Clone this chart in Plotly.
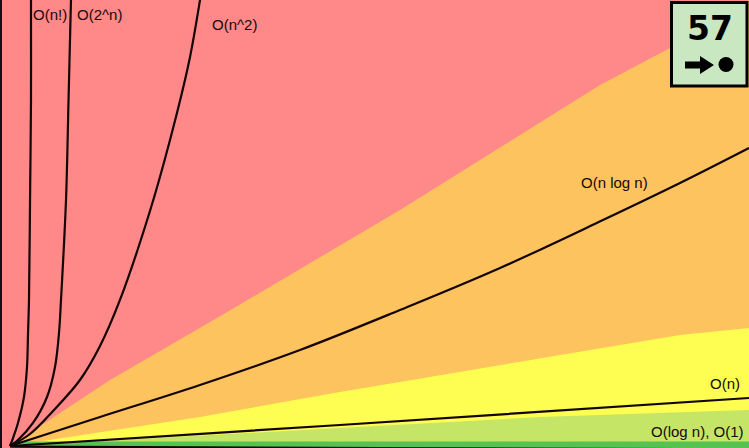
import plotly.graph_objects as go

# ---- data (chart units: n on x, operations on y) ----
n_fact_x = [0, 0.41, 1.08, 1.89, 2.30, 2.44, 2.57, 2.71, 2.84, 2.84, 2.88]
n_fact_y = [0, 1.79, 5.16, 10.99, 17.71, 25.34, 32.74, 55.16, 77.58, 100, 104.5]

exp_x = [0, 1.08, 3.11, 5.01, 6.09, 6.63, 6.90, 7.58, 7.92, 8.25, 8.32]
exp_y = [0, 1.35, 5.16, 10.99, 17.71, 25.34, 32.74, 55.16, 77.58, 100, 104.5]

sq_x = [0, 2.71, 5.82, 9.47, 12.18, 14.88, 18.94, 21.65, 24.22, 25.71, 26.12]
sq_y = [0, 2.69, 7.85, 14.80, 22.42, 32.74, 52.69, 68.61, 86.10, 100, 104.5]

nlogn_x = [0, 12.18, 25.71, 39.24, 52.77, 66.31, 80.24, 90.66, 100]
nlogn_y = [0, 6.50, 13.68, 21.52, 30.49, 39.91, 50.67, 58.97, 66.82]

lin_x = [0, 44.65, 100]
lin_y = [0, 4.71, 10.76]

log_x = [0, 100]
log_y = [-0.15, -0.75]

# zone boundaries
red_orange_x = [0, 13.53, 28.01, 52.77, 79.84, 89.58, 100]
red_orange_y = [0, 14.80, 28.70, 52.91, 80.94, 89.46, 100]
orange_yellow_x = [0, 25.71, 44.65, 90.66, 100]
orange_yellow_y = [0, 6.50, 12.11, 24.89, 26.46]
yellow_green_x = [0, 44.65, 71.72, 100]
yellow_green_y = [0, 4.04, 6.50, 8.07]
green_dark_x = [0.4, 100]
green_dark_y = [1.0, 1.0]

labels = ["O(n!)", "O(2^n)", "O(n^2)", "O(n log n)", "O(n)", "O(log n), O(1)"]
badge_number = "57"

RED, ORANGE, YELLOW, LGREEN, DGREEN = "#ff8888", "#fcc35f", "#fdfd52", "#c4e566", "#54c351"
LINE = "#140404"
W, H = 749, 448

fig = go.Figure()


def zone(xs, ys, color):
    px = list(xs) + [xs[-1], 101, 101, xs[0]]
    pyv = list(ys) + [-2, -2, -2, -2]
    fig.add_trace(go.Scatter(x=px, y=pyv, fill="toself", fillcolor=color, mode="none",
                             hoverinfo="skip", showlegend=False))


zone(red_orange_x, red_orange_y, ORANGE)
zone(orange_yellow_x, orange_yellow_y, YELLOW)
zone(yellow_green_x, yellow_green_y, LGREEN)
zone(green_dark_x, green_dark_y, DGREEN)

for xs, ys in [(n_fact_x, n_fact_y), (exp_x, exp_y), (sq_x, sq_y), (nlogn_x, nlogn_y),
               (lin_x, lin_y), (log_x, log_y)]:
    fig.add_trace(go.Scatter(x=xs, y=ys, mode="lines",
                             line=dict(color=LINE, width=2.2, shape="spline", smoothing=1.0),
                             hoverinfo="skip", showlegend=False))


def PX(x):
    return x / W


def PY(y):
    return 1 - y / H


label_pos = [(31, 14, "left"), (75, 14, "left"), (210, 24, "left"), (579, 183, "left"),
             (742, 383, "right"), (746, 431, "right")]
for t, (x, y, anc) in zip(labels, label_pos):
    fig.add_annotation(x=PX(x), y=PY(y), xref="paper", yref="paper", text=t, showarrow=False,
                       xanchor=anc, yanchor="middle",
                       font=dict(family="Liberation Sans, Arial", size=15, color="#1a0808"))

# badge
fig.add_shape(type="rect", xref="paper", yref="paper", x0=PX(671.5), x1=PX(747), y0=PY(86), y1=PY(2.5),
              fillcolor="#c9e7c1", line=dict(color="black", width=3), layer="above")
fig.add_annotation(x=PX(709.5), y=PY(28), xref="paper", yref="paper", text=badge_number, showarrow=False,
                   xanchor="center", yanchor="middle",
                   font=dict(family="DejaVu Sans", size=33, color="black", weight="bold"))
arrow = [(685, 61.5), (700, 61.5), (700, 56), (714, 65), (700, 74), (700, 68.5), (685, 68.5)]
path = "M " + " L ".join(f"{PX(a):.5f},{PY(b):.5f}" for a, b in arrow) + " Z"
fig.add_shape(type="path", xref="paper", yref="paper", path=path, fillcolor="black",
              line=dict(color="black", width=0), layer="above")
fig.add_shape(type="circle", xref="paper", yref="paper", x0=PX(718.5), x1=PX(733.5), y0=PY(72), y1=PY(57),
              fillcolor="black", line=dict(color="black", width=0), layer="above")
# left axis edge
fig.add_shape(type="line", xref="paper", yref="paper", x0=PX(1), x1=PX(1), y0=0, y1=1,
              line=dict(color="#111", width=2), layer="above")

fig.update_layout(
    width=W, height=H, margin=dict(l=0, r=0, t=0, b=0),
    plot_bgcolor=RED, paper_bgcolor=RED,
    xaxis=dict(range=[-1.353, 100], visible=False, fixedrange=True),
    yaxis=dict(range=[-0.448, 100], visible=False, fixedrange=True),
)

fig.write_html("out.html", config={"displayModeBar": False},
               post_script="document.body.style.margin='0';document.body.style.overflow='hidden';")
